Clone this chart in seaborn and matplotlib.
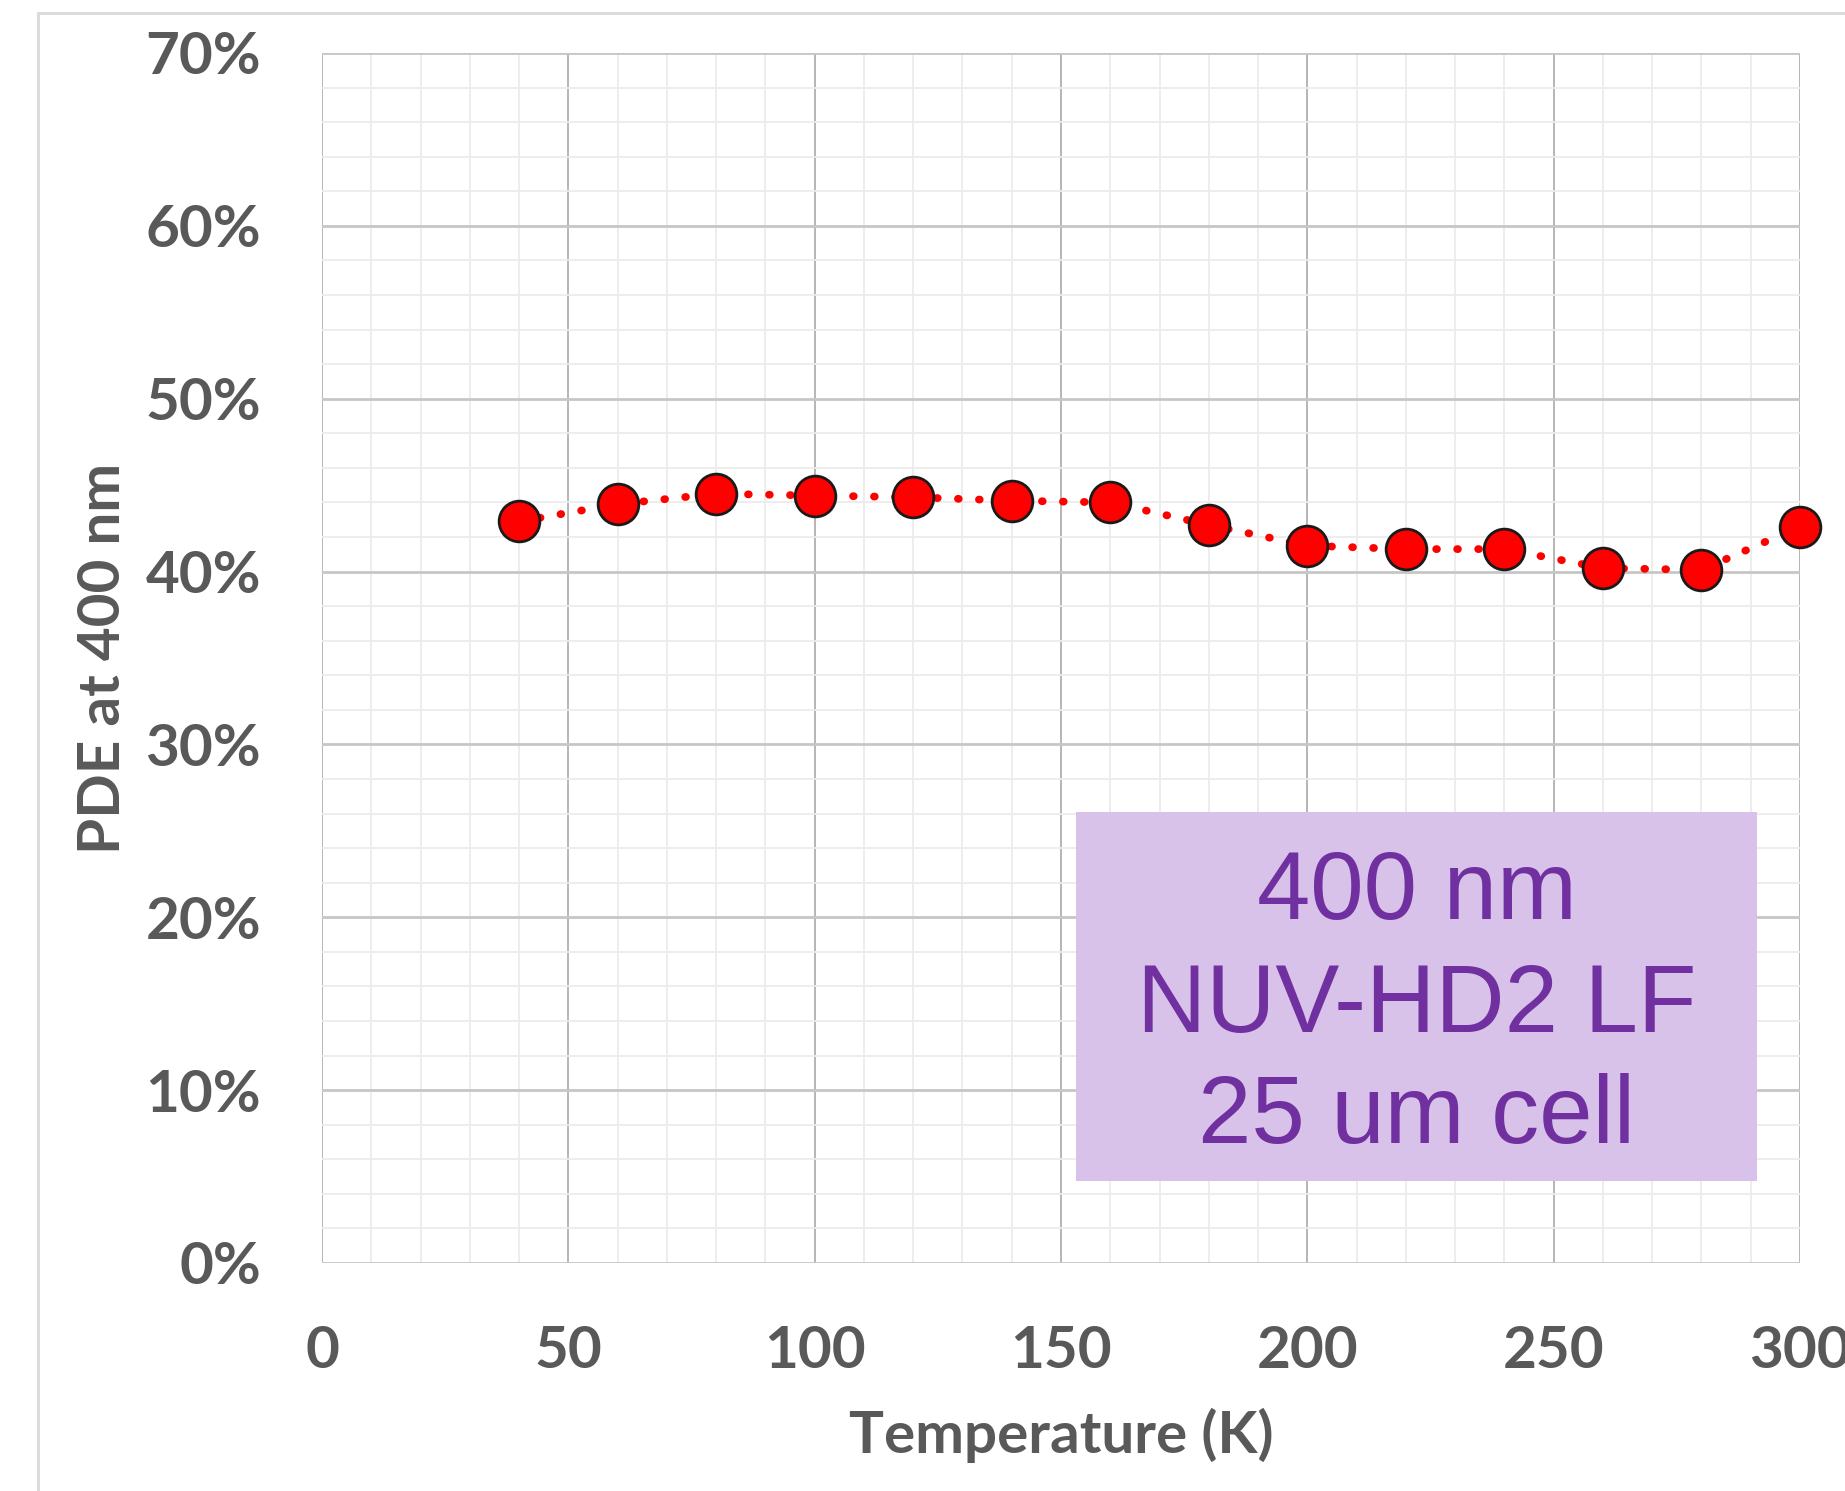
import matplotlib
matplotlib.use("Agg")
import matplotlib.pyplot as plt
from matplotlib.patches import Rectangle
import seaborn as sns
import pandas as pd

# Photon detection efficiency at 400 nm vs temperature
temperature_k = [40, 60, 80, 100, 120, 140, 160, 180, 200, 220, 240, 260, 280, 300]
pde_percent = [42.9, 43.9, 44.5, 44.4, 44.3, 44.1, 44.0, 42.7, 41.5, 41.3, 41.3, 40.2, 40.1, 42.6]

x_ticks = [0, 50, 100, 150, 200, 250, 300]
y_ticks = [0, 10, 20, 30, 40, 50, 60, 70]
y_tick_labels = [f"{v}%" for v in y_ticks]
box_lines = ["400 nm", "NUV-HD2 LF", "25 um cell"]

df = pd.DataFrame({"T": temperature_k, "PDE": pde_percent})

sns.set_theme(style="white")
plt.rcParams["font.family"] = ["Lato", "DejaVu Sans"]

W, H = 1845, 1491
fig = plt.figure(figsize=(W / 100, H / 100), dpi=100)
fig.patch.set_facecolor("white")

# outer chart-area border
fig.patches.append(Rectangle((38 / W, -0.2), 2.0, 1 - 13 / H + 0.2,
                             transform=fig.transFigure, fill=False,
                             edgecolor="#d9d9d9", linewidth=2.0, zorder=0))

left, right, top, bottom = 322, 1800, 53, 1263
ax = fig.add_axes([left / W, 1 - bottom / H, (right - left) / W, (bottom - top) / H])
ax.set_facecolor("white")

sns.lineplot(data=df, x="T", y="PDE", ax=ax, color="#ff0000", linewidth=5.6,
             linestyle=(0, (0.1, 2.6)), dash_capstyle="round", zorder=3,
             clip_on=False)
sns.scatterplot(data=df, x="T", y="PDE", ax=ax, s=860, color="#ff0000",
                edgecolor="#1a1a1a", linewidth=2.0, zorder=4, clip_on=False)

ax.set_xlim(0, 300)
ax.set_ylim(0, 70)
ax.set_xticks(x_ticks)
ax.set_xticks(range(0, 301, 10), minor=True)
ax.set_yticks(y_ticks)
ax.set_yticks(range(0, 71, 2), minor=True)
ax.set_yticklabels(y_tick_labels)

ax.grid(which="minor", color="#ececec", linewidth=1.3, zorder=0)
ax.grid(which="major", axis="y", color="#c6c6c6", linewidth=2.0, zorder=1)
ax.grid(which="major", axis="x", color="#b0b0b0", linewidth=1.3, zorder=1)
ax.set_axisbelow(True)
for s in ax.spines.values():
    s.set_visible(False)

ax.tick_params(which="both", length=0)
ax.tick_params(axis="y", pad=44, labelsize=42, labelcolor="#595959")
ax.tick_params(axis="x", pad=45, labelsize=42, labelcolor="#595959")
for lab in ax.get_xticklabels() + ax.get_yticklabels():
    lab.set_fontweight("bold")

ax.set_xlabel("Temperature (K)", fontsize=42, fontweight="bold", color="#595959")
ax.set_ylabel("PDE at 400 nm", fontsize=42, fontweight="bold", color="#595959")
ax.xaxis.set_label_coords(0.5, -0.12)
ax.yaxis.set_label_coords((104 - left) / (right - left), 0.5)
ax.yaxis.label.set_va("center")

# annotation box
bx0, bx1, by0, by1 = 1076, 1757, 812, 1181
ax.add_patch(Rectangle(((bx0 - left) / (right - left), (bottom - by1) / (bottom - top)),
                       (bx1 - bx0) / (right - left), (by1 - by0) / (bottom - top),
                       transform=ax.transAxes, facecolor="#d9c2e9", edgecolor="none",
                       zorder=5))
cx = ((bx0 + bx1) / 2 - left) / (right - left)
for line, base in zip(box_lines, [919, 1032, 1143]):
    ax.text(cx, (bottom - base) / (bottom - top), line, transform=ax.transAxes,
            ha="center", va="baseline", fontsize=69, color="#7030a0",
            family=["Liberation Sans", "DejaVu Sans"], zorder=6)

fig.savefig("out.png", dpi=100)
